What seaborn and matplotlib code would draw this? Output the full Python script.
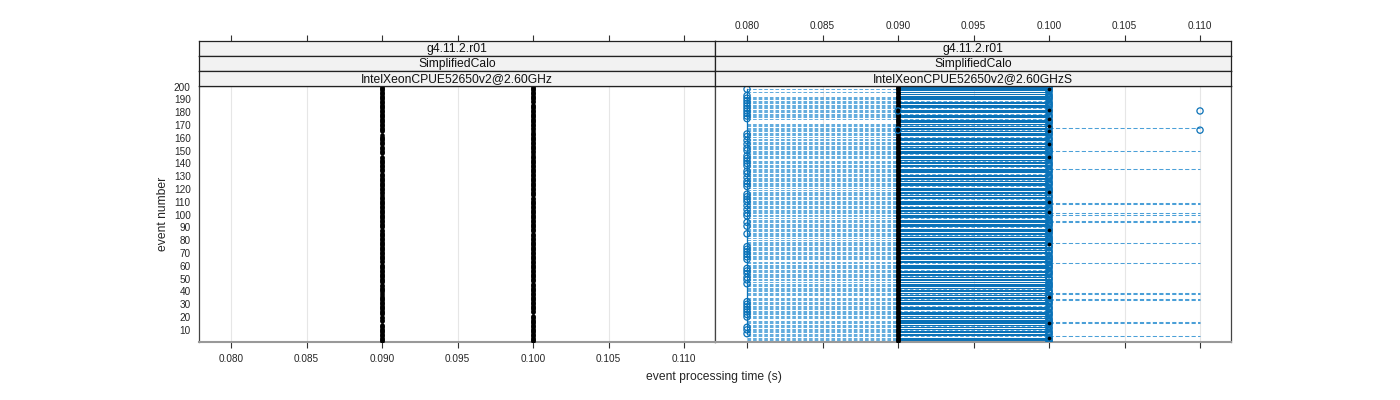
import matplotlib
matplotlib.use("Agg")
import matplotlib.pyplot as plt
import numpy as np
import pandas as pd
import seaborn as sns

# ---------------- data ----------------
events = list(range(1, 201))
x_ticks = [0.080, 0.085, 0.090, 0.095, 0.100, 0.105, 0.110]
x_tick_labels = ["0.080", "0.085", "0.090", "0.095", "0.100", "0.105", "0.110"]
y_ticks = list(range(10, 201, 10))
strip_rows = ["g4.11.2.r01", "SimplifiedCalo"]
panel_names = ["IntelXeonCPUE52650v2@2.60GHz", "IntelXeonCPUE52650v2@2.60GHzS"]

# left panel: every event measured at 0.090 s and 0.100 s except these events
left_missing_090 = [163, 164, 154, 146, 147, 133, 116, 89, 62, 46, 38, 21, 15, 16]
left_missing_100 = [187, 166, 148, 114, 86, 47, 22, 23]

# right panel
right_black_100 = [198, 182, 175, 169, 165, 155, 145, 118, 110, 102, 88, 77, 36, 15, 4]
right_blue_080 = [198, 193, 191, 189, 187, 185, 183, 181, 179, 177, 175, 163, 161,
                  158, 155, 152, 150, 146, 144, 142, 140, 138, 134, 132, 129, 126,
                  124, 122, 116, 114, 112, 110, 107, 104, 101, 99, 94, 91, 85, 75,
                  73, 71, 69, 67, 65, 58, 56, 54, 51, 49, 46, 32, 30, 28, 26, 24,
                  22, 20, 12, 10, 7]
right_blue_extra = [181, 166]          # circles at 0.090 and 0.110
solid_gaps = [195, 189, 183, 179, 175, 170, 166, 161, 157, 153, 147, 142, 137, 132,
              127, 122, 116, 112, 107, 102, 97, 90, 84, 77, 73, 69, 62, 57, 52,
              48, 42, 38, 34, 29, 25, 20, 13, 10, 5]
low_dash_gaps = [200, 199, 197, 195, 194, 193, 174, 173, 172, 160, 143, 120, 98,
                 81, 64, 48, 36, 18]
high_dash_events = [168, 150, 136, 109, 108, 101, 100, 95, 94, 78, 62,
                    39, 38, 34, 33, 16, 15, 5]

# ---------------- style ----------------
sns.set_theme(style="white")
plt.rcParams["font.family"] = ["Liberation Sans", "DejaVu Sans"]
BLUE = "#0a72b8"
DBLUE = "#2b8fd2"

W, H = 1400, 400
fig = plt.figure(figsize=(14, 4), dpi=100)

def fx(px):
    return px / W

def fy(py):
    return 1 - py / H

xlim = (0.07788, 0.11205)
ylim = (0.5, 200.5)
panel_left = [199, 715]
panel_w = 516
p_top, p_bot = 86, 342

axes = []
for i in range(2):
    ax = fig.add_axes([fx(panel_left[i]), fy(p_bot), fx(panel_w), (p_bot - p_top) / H])
    axes.append(ax)
    ax.set_xlim(*xlim)
    ax.set_ylim(*ylim)
    for xv in x_ticks:
        ax.axvline(xv, color="#e6e6e6", lw=0.8, zorder=0)
    for s in ax.spines.values():
        s.set_color("#444444")
        s.set_linewidth(0.9)
    ax.spines["bottom"].set_color("#999999")
    ax.spines["bottom"].set_linewidth(1.5)
    ax.set_xticks(x_ticks)
    ax.tick_params(axis="x", direction="out", length=4.5, width=0.8, color="#333333",
                   labelsize=7.2, pad=4, bottom=True)
    if i == 0:
        ax.set_xticklabels(x_tick_labels)
        ax.set_yticks(y_ticks)
        ax.set_yticklabels([str(v) for v in y_ticks])
        ax.tick_params(axis="y", length=0, labelsize=7.2, pad=6)
    else:
        ax.set_xticklabels([])
        ax.set_yticks([])

# ---- left panel points ----
ev090 = [e for e in events if e not in left_missing_090]
ev100 = [e for e in events if e not in left_missing_100]
left_df = pd.DataFrame({"event": ev090 + ev100,
                        "time": [0.090] * len(ev090) + [0.100] * len(ev100)})
sns.scatterplot(data=left_df, x="time", y="event", ax=axes[0], color="black",
                s=11, linewidth=0, zorder=3, legend=False)

# ---- right panel lines ----
ax = axes[1]
low_ev = [e for e in events if e not in low_dash_gaps]
ax.hlines(low_ev, 0.080, 0.100, colors=DBLUE, linewidth=0.65,
          linestyles=(0, (4, 2.2)), alpha=0.8, zorder=1)
solid_ev = [e for e in events if e not in solid_gaps]
ax.hlines(solid_ev, 0.090, 0.100, colors=BLUE, linewidth=0.75, zorder=2)
ax.hlines(high_dash_events, 0.100, 0.110, colors=DBLUE, linewidth=0.75,
          linestyles=(0, (4, 2.2)), alpha=0.85, zorder=2)
ax.plot([0.080] * len(right_blue_080), right_blue_080, color=BLUE, lw=0.9, zorder=2)

# blue circles
blue_df = pd.DataFrame({
    "event": right_blue_080 + solid_ev,
    "time": [0.080] * len(right_blue_080) + [0.100] * len(solid_ev),
})
sns.scatterplot(data=blue_df, x="time", y="event", ax=ax, marker="o", s=20,
                color=BLUE, facecolor="none", edgecolor=BLUE, linewidth=0.9,
                zorder=3, legend=False)
# black points at 0.100 (partly hidden among the circles)
b100_df = pd.DataFrame({"event": right_black_100, "time": [0.100] * len(right_black_100)})
sns.scatterplot(data=b100_df, x="time", y="event", ax=ax, color="black",
                s=7, linewidth=0, zorder=3.5, legend=False)
# black points at 0.090
b090_df = pd.DataFrame({"event": events, "time": [0.090] * len(events)})
sns.scatterplot(data=b090_df, x="time", y="event", ax=ax, color="black",
                s=11, linewidth=0, zorder=4, legend=False)
extra_df = pd.DataFrame({
    "event": right_blue_extra + right_blue_extra,
    "time": [0.090] * len(right_blue_extra) + [0.110] * len(right_blue_extra),
})
sns.scatterplot(data=extra_df, x="time", y="event", ax=ax, marker="o", s=20,
                color=BLUE, facecolor="none", edgecolor=BLUE, linewidth=0.9,
                zorder=5, legend=False)
for a in axes:
    a.set_xlabel("")
    a.set_ylabel("")

# ---- strips ----
row_tops = [41, 56, 71]
row_h = 15
for i in range(2):
    labels = strip_rows + [panel_names[i]]
    for r, lab in enumerate(labels):
        sax = fig.add_axes([fx(panel_left[i]), fy(row_tops[r] + row_h), fx(panel_w), row_h / H])
        sax.set_facecolor("#f2f2f2")
        sax.set_xlim(*xlim)
        sax.set_yticks([])
        for s in sax.spines.values():
            s.set_color("#222222")
            s.set_linewidth(0.9)
        sax.text(0.5, 0.45, lab, transform=sax.transAxes, ha="center", va="center",
                 fontsize=8.7, color="#111111")
        if r == 0:
            sax.set_xticks(x_ticks)
            sax.tick_params(axis="x", top=True, bottom=False, labelbottom=False,
                            labeltop=(i == 1), direction="out", length=4.5,
                            width=0.8, color="#333333", labelsize=7.2, pad=3)
            if i == 1:
                sax.set_xticklabels(x_tick_labels)
        else:
            sax.set_xticks([])

fig.text(fx(714), fy(377), "event processing time (s)", ha="center", va="center",
         fontsize=8.7)
fig.text(fx(163), fy(214), "event number", ha="center", va="center",
         rotation=90, fontsize=8.7)

fig.savefig("out.png", dpi=100)
